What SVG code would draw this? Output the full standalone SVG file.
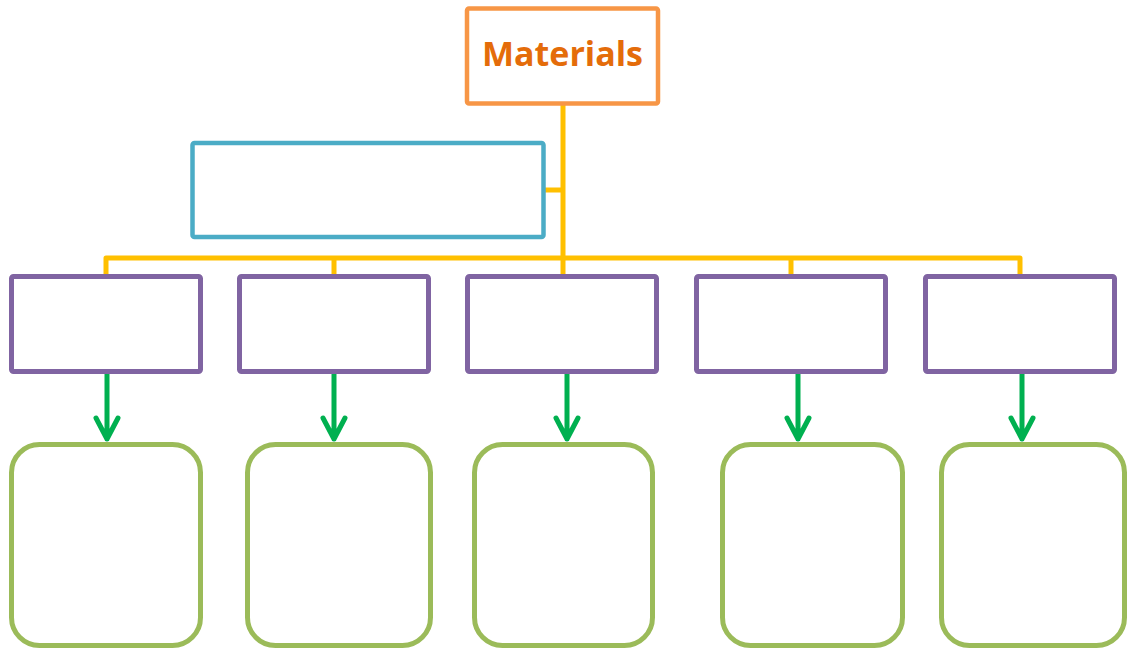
<svg xmlns="http://www.w3.org/2000/svg" width="1130" height="650" viewBox="0 0 1130 650">
<style>
.top{fill:#fff;stroke:#F79646;stroke-width:4.5}
.blue{fill:#fff;stroke:#4BACC6;stroke-width:4.5}
.purple{fill:#fff;stroke:#8064A2;stroke-width:5}
.green{fill:#fff;stroke:#9BBB59;stroke-width:5}
.yl{fill:none;stroke:#FFC000;stroke-width:5;stroke-linejoin:round}
.ar{fill:none;stroke:#00B050;stroke-width:5;stroke-linecap:round;stroke-linejoin:round}
.title{font-family:"Open Sans","Liberation Sans",sans-serif;font-weight:bold;font-size:34px;fill:#E46C0A}
</style>
<g id="connectors">
<path class="yl" d="M563 104V276M545 190H563M106 274V258H1020V274M334 258V274"/>
<path class="yl" d="M791 258V274"/>
<path class="ar" d="M107 366V439M96 418L107 439L118 418"/>
<path class="ar" d="M334 366V439M323 418L334 439L345 418"/>
<path class="ar" d="M567 366V439M556 418L567 439L578 418"/>
<path class="ar" d="M798 366V439M787 418L798 439L809 418"/>
<path class="ar" d="M1022 366V439M1011 418L1022 439L1033 418"/>
</g>
<g id="materials"><rect class="top" x="467" y="8.5" width="191" height="95" rx="2"/><text class="title" x="562.5" y="66" text-anchor="middle">Materials</text></g>
<g id="blue"><rect class="blue" x="192.5" y="143" width="351" height="94" rx="2"/></g>
<g id="p1"><rect class="purple" x="11.5" y="276.5" width="189" height="95" rx="2"/></g>
<g id="p2"><rect class="purple" x="239.5" y="276.5" width="189" height="95" rx="2"/></g>
<g id="p3"><rect class="purple" x="467.5" y="276.5" width="189" height="95" rx="2"/></g>
<g id="p4"><rect class="purple" x="696.5" y="276.5" width="189" height="95" rx="2"/></g>
<g id="p5"><rect class="purple" x="925.5" y="276.5" width="189" height="95" rx="2"/></g>
<g id="g1"><rect class="green" x="11.5" y="444.5" width="189" height="201" rx="28"/></g>
<g id="g2"><rect class="green" x="247.5" y="444.5" width="183" height="201" rx="28"/></g>
<g id="g3"><rect class="green" x="474.5" y="444.5" width="178" height="201" rx="28"/></g>
<g id="g4"><rect class="green" x="722.5" y="444.5" width="180" height="201" rx="28"/></g>
<g id="g5"><rect class="green" x="941.5" y="444.5" width="183" height="201" rx="28"/></g>
</svg>
